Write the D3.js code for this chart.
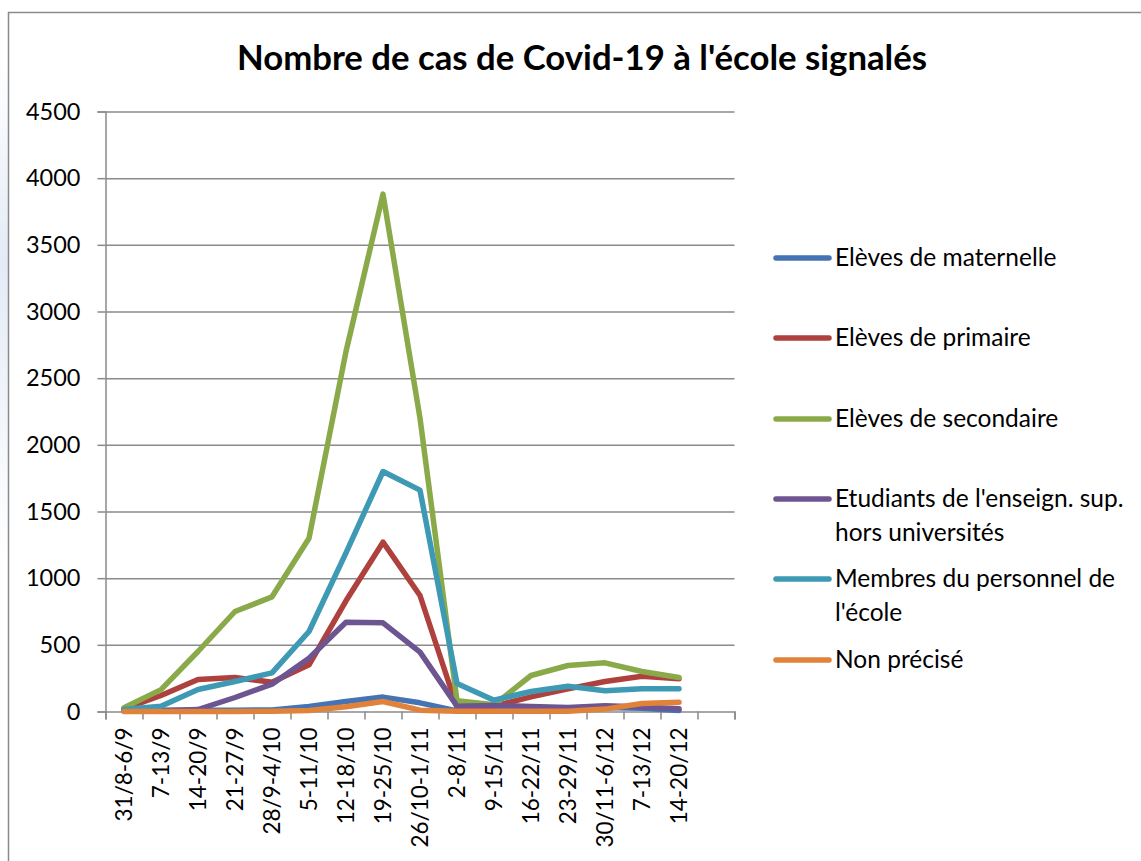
<!DOCTYPE html>
<html><head><meta charset="utf-8">
<script src="https://cdn.jsdelivr.net/npm/d3@7/dist/d3.min.js"></script>
<style>
html,body{margin:0;padding:0;background:#fff;}
svg text{font-family:Lato,"Open Sans",sans-serif;fill:#000;}
</style></head>
<body>
<svg id="chart" width="1141" height="861"></svg>
<script>
// ---- data ----
const categories = ["31/8-6/9","7-13/9","14-20/9","21-27/9","28/9-4/10","5-11/10","12-18/10","19-25/10","26/10-1/11","2-8/11","9-15/11","16-22/11","23-29/11","30/11-6/12","7-13/12","14-20/12"];
const maternelle = [5,10,10,10,12,38,75,108,65,5,10,15,20,30,25,8];
const primaire   = [20,120,240,255,220,350,830,1270,870,30,40,110,170,225,265,245];
const secondaire = [28,164,450,750,860,1300,2700,3880,2200,80,50,270,345,365,300,255];
const etudiants  = [5,5,15,105,205,400,670,665,445,40,45,38,30,43,33,20];
const personnel  = [15,40,165,225,290,600,1190,1800,1660,210,85,150,190,155,170,170];
const nonPrecise = [0,0,0,0,2,8,35,75,10,2,2,2,2,18,60,70];
const seriesNames = [["Elèves de maternelle"],["Elèves de primaire"],["Elèves de secondaire"],["Etudiants de l'enseign. sup.","hors universités"],["Membres du personnel de","l'école"],["Non précisé"]];
const yTicks = [0,500,1000,1500,2000,2500,3000,3500,4000,4500];
const title = "Nombre de cas de Covid-19 à l'école signalés";

const seriesValues = [maternelle, primaire, secondaire, etudiants, personnel, nonPrecise];
const colors = ["#4474b4","#ae413d","#8aaa4a","#6d5591","#3e9ab4","#e0823a"];

const svg = d3.select("#chart");

// faint background glow at left edge
const defs = svg.append("defs");
const grad = defs.append("linearGradient").attr("id","glow").attr("x1",0).attr("x2",0).attr("y1",0).attr("y2",1);
grad.append("stop").attr("offset","0%").attr("stop-color","#ffffff");
grad.append("stop").attr("offset","40%").attr("stop-color","#e4ebf6");
grad.append("stop").attr("offset","100%").attr("stop-color","#ffffff");
svg.append("rect").attr("x",0).attr("y",60).attr("width",8).attr("height",500).attr("fill","url(#glow)");

// outer frame
svg.append("rect").attr("x",8.5).attr("y",12.5).attr("width",1300).attr("height",1000)
  .attr("fill","none").attr("stroke","#8a8a8a").attr("stroke-width",1.5);

// title
const t = svg.append("text").attr("x",582).attr("y",70).attr("text-anchor","middle")
  .style("font-weight","bold").style("font-size","30px").text(title);
const tw = t.node().getComputedTextLength();
t.style("font-size", (30*690/tw).toFixed(2)+"px");

// scales
const x = d3.scaleBand().domain([...categories, ""]).range([105.5,734.5]).padding(0);
const xEdges = d3.scaleLinear().domain([0, categories.length+1]).range([105.5,734.5]);
const y = d3.scaleLinear().domain([0,4500]).range([711.5,111.5]);

// gridlines + y axis
const yAxis = d3.axisLeft(y).tickValues(yTicks).tickSize(8).tickPadding(17).tickFormat(d3.format("d"));
const gy = svg.append("g").attr("transform","translate(105.5,0)").call(yAxis);
gy.select(".domain").attr("stroke","#8a8a8a").attr("stroke-width",1.5);
gy.selectAll(".tick line").attr("stroke","#8a8a8a").attr("stroke-width",1.5);
gy.selectAll(".tick text").style("font-size","23.5px").style("font-family","Lato");
gy.selectAll(".tick").filter(d=>d>0).append("line").attr("x1",0).attr("x2",629)
  .attr("stroke","#8a8a8a").attr("stroke-width",1.5);

// x axis boundary ticks
const xTickAxis = d3.axisBottom(xEdges).tickValues(d3.range(categories.length+2)).tickSize(8).tickFormat("");
const gx = svg.append("g").attr("transform","translate(0,711.5)").call(xTickAxis);
gx.select(".domain").attr("stroke","#8a8a8a").attr("stroke-width",1.5);
gx.selectAll(".tick line").attr("stroke","#8a8a8a").attr("stroke-width",1.5);

// x labels
const xLab = d3.axisBottom(x).tickValues(categories).tickSize(0).tickPadding(0);
const gl = svg.append("g").attr("transform","translate(0,711.5)").call(xLab);
gl.select(".domain").remove();
gl.selectAll(".tick text").style("font-size","22.5px").style("font-family","Lato")
  .attr("text-anchor","end").attr("transform","translate(0,16) rotate(-90)")
  .attr("x",0).attr("y",0).attr("dy","0.36em");

// lines
const line = d3.line().x((d,i)=>x(categories[i])+x.bandwidth()/2).y(d=>y(d));
svg.append("g").selectAll("path").data(seriesValues).join("path")
  .attr("d", d=>line(d)).attr("fill","none").attr("stroke",(d,i)=>colors[i])
  .attr("stroke-width",5.5).attr("stroke-linejoin","round").attr("stroke-linecap","round");

// legend
const legendY = [258, 338, 419, 499, 579, 660];
const lg = svg.append("g");
seriesNames.forEach((lines,i)=>{
  lg.append("line").attr("x1",776).attr("x2",829).attr("y1",legendY[i]).attr("y2",legendY[i])
    .attr("stroke",colors[i]).attr("stroke-width",5.5).attr("stroke-linecap","round");
  const tx = lg.append("text").attr("x",835).attr("y",legendY[i]+8).style("font-size","24.5px");
  lines.forEach((s,j)=>{
    tx.append("tspan").attr("x",835).attr("dy", j===0?0:34).text(s);
  });
});
</script>
</body></html>
